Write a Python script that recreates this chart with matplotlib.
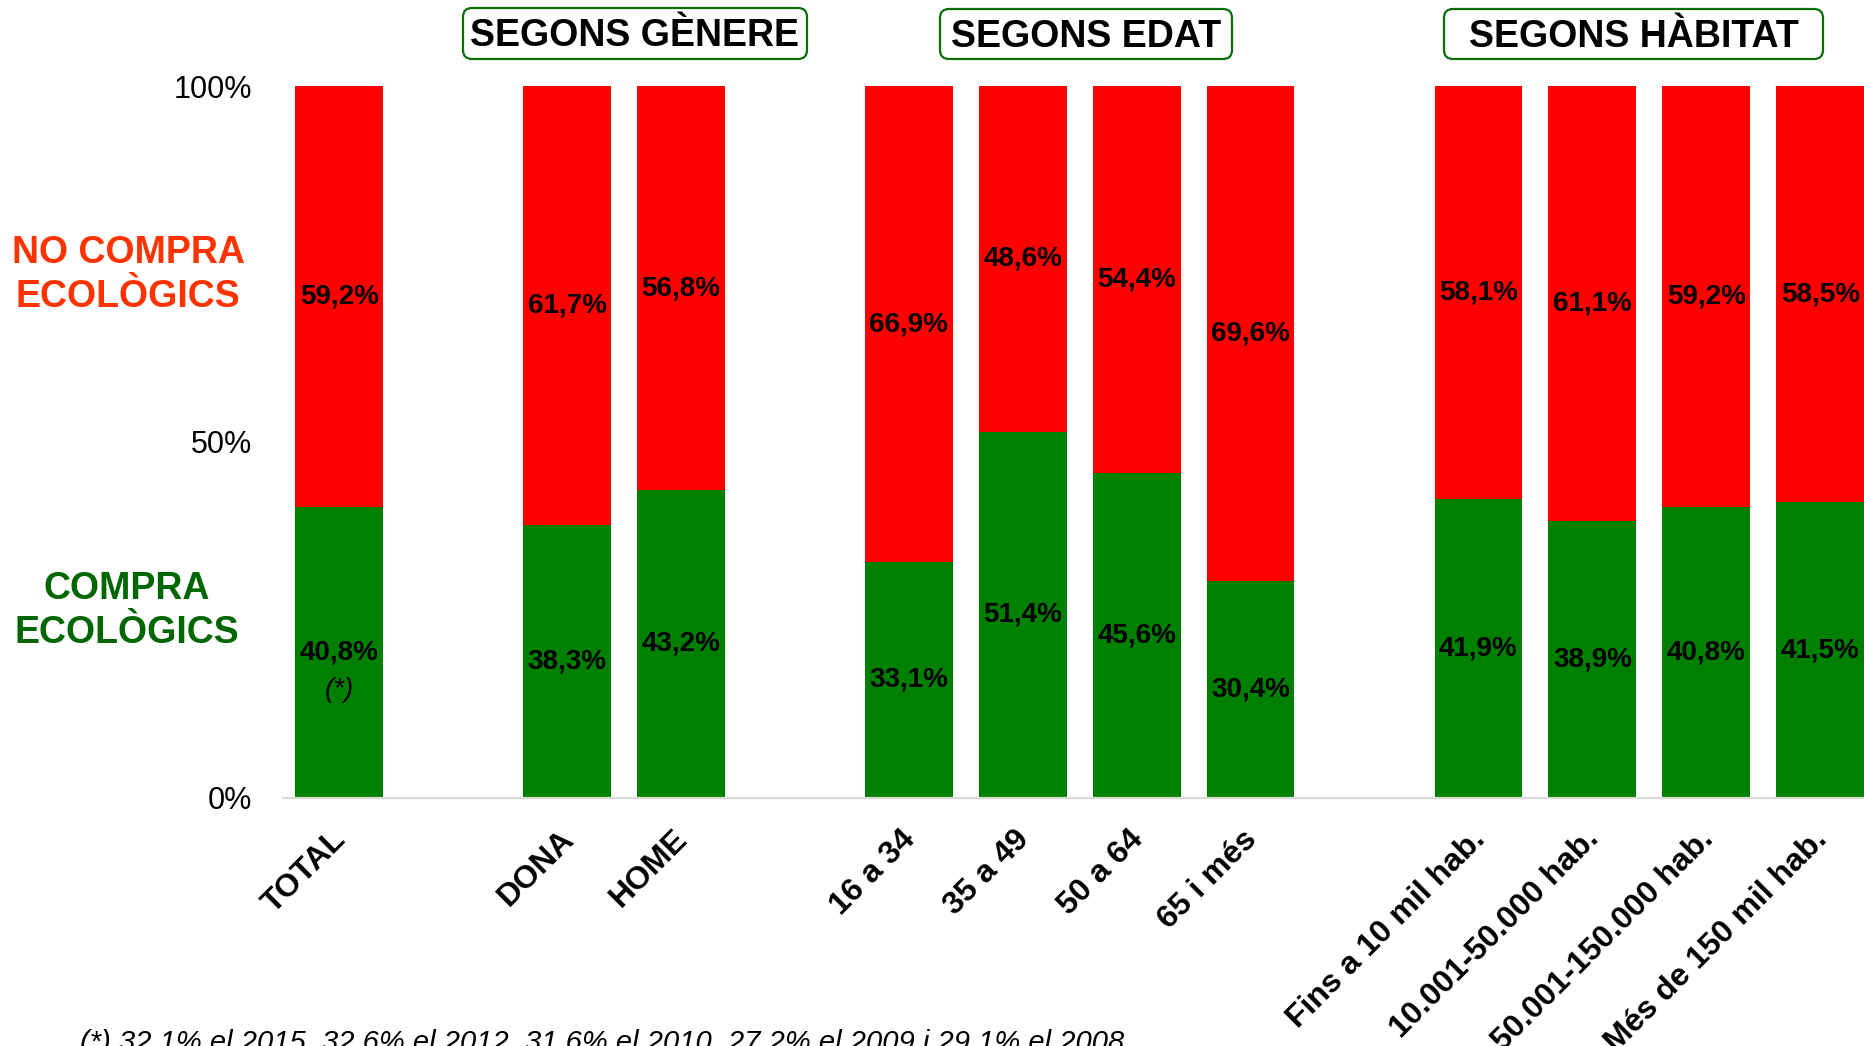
import matplotlib
matplotlib.use('Agg')
import matplotlib.pyplot as plt
from matplotlib.patches import FancyBboxPatch
from matplotlib.transforms import IdentityTransform

plt.rcParams['font.family'] = ['Liberation Sans', 'DejaVu Sans']

categories = ['TOTAL', 'DONA', 'HOME', '16 a 34', '35 a 49', '50 a 64', '65 i més',
              'Fins a 10 mil hab.', '10.001-50.000 hab.', '50.001-150.000 hab.',
              'Més de 150 mil hab.']
group_sizes = [1, 2, 4, 4]
compra = [40.8, 38.3, 43.2, 33.1, 51.4, 45.6, 30.4, 41.9, 38.9, 40.8, 41.5]
no_compra = [59.2, 61.7, 56.8, 66.9, 48.6, 54.4, 69.6, 58.1, 61.1, 59.2, 58.5]
group_titles = ['SEGONS GÈNERE', 'SEGONS EDAT', 'SEGONS HÀBITAT']
footnote = '(*) 32,1% el 2015, 32,6% el 2012, 31,6% el 2010, 27,2% el 2009 i 29,1% el 2008'

W, H = 1864, 1046
RED = '#FF0000'
GREEN = '#008000'

# bar slots: one empty slot between groups
xpos = []
slot = 0
for n in group_sizes:
    for i in range(n):
        xpos.append(slot)
        slot += 1
    slot += 1

fig = plt.figure(figsize=(W / 100, H / 100), dpi=100)
ax = fig.add_axes([282.7 / W, 1 - 797.7 / H, 1 - 282.7 / W, (797.7 - 86) / H])

width = 0.77
ax.bar(xpos, compra, width, color=GREEN, linewidth=0)
ax.bar(xpos, no_compra, width, bottom=compra, color=RED, linewidth=0)


def fmt(v):
    return f'{v:.1f}'.replace('.', ',') + '%'


for i, x in enumerate(xpos):
    ax.text(x, compra[i] / 2, fmt(compra[i]), ha='center', va='center',
            fontsize=20, fontweight='bold', color='black')
    ax.text(x, compra[i] + no_compra[i] / 2, fmt(no_compra[i]), ha='center', va='center',
            fontsize=20, fontweight='bold', color='black')
# note marker under TOTAL
ax.annotate('(*)', (xpos[0], compra[0] / 2), xytext=(0, -27), textcoords='offset points',
            ha='center', va='center', fontsize=20, fontstyle='italic')

ax.set_xlim(-0.497, 13.385)
ax.set_ylim(0, 100)
ax.set_yticks([0, 50, 100])
ax.set_yticklabels(['0%', '50%', '100%'], fontsize=22)
ax.set_xticks([])
# rotated category labels under the bars
for x, cat in zip(xpos, categories):
    ax.annotate(cat, (x, 0), xytext=(-6, -19), textcoords='offset points',
                rotation=45, ha='right', va='top', rotation_mode='anchor',
                fontsize=23, fontweight='bold', annotation_clip=False)
ax.tick_params(axis='both', length=0)
ax.tick_params(axis='y', pad=22)
for s in ['top', 'right', 'left']:
    ax.spines[s].set_visible(False)
ax.spines['bottom'].set_color('#D9D9D9')
ax.spines['bottom'].set_linewidth(1.6)

# side labels
fig.text(128 / W, 1 - 275 / H, 'NO COMPRA\nECOLÒGICS', ha='center', va='center',
         fontsize=27, fontweight='bold', color='#FF3300', linespacing=1.27)
fig.text(127 / W, 1 - 611 / H, 'COMPRA\nECOLÒGICS', ha='center', va='center',
         fontsize=27, fontweight='bold', color='#006600', linespacing=1.27)

# group header boxes (pixel extents, y from top)
boxes = [(463, 807, 8, 59), (940, 1232, 9, 59), (1444, 1823, 9, 59)]
for title, (x0, x1, y0, y1) in zip(group_titles, boxes):
    patch = FancyBboxPatch((x0, H - y1), x1 - x0, y1 - y0,
                           boxstyle='round,pad=0,rounding_size=9',
                           transform=IdentityTransform(), facecolor='white',
                           edgecolor='#0B6E0B', linewidth=1.6)
    fig.add_artist(patch)
    fig.text((x0 + x1) / 2 / W, 1 - ((y0 + y1) / 2 + 3) / H, title, ha='center',
             va='center', fontsize=27, fontweight='bold', color='black')

fig.text(80 / W, 1 - 1029 / H, footnote, ha='left', va='top', fontsize=21,
         fontstyle='italic', color='black')

fig.savefig('out.png', dpi=100)
